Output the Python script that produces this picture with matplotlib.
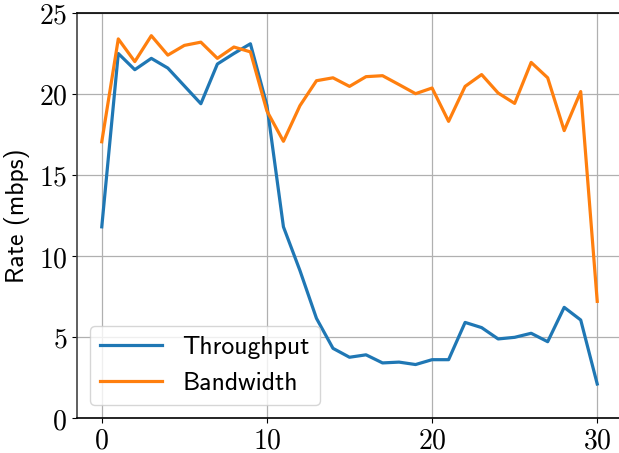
import matplotlib
matplotlib.use("Agg")
import matplotlib.pyplot as plt

plt.rcParams["mathtext.fontset"] = "cm"
plt.rcParams["axes.unicode_minus"] = False

steps = list(range(31))
throughput = [11.8, 22.5, 21.5, 22.2, 21.6, 20.5, 19.4, 21.85, 22.5, 23.1,
              19.3, 11.8, 9.1, 6.15, 4.3, 3.75, 3.9, 3.4, 3.45, 3.3,
              3.6, 3.6, 5.9, 5.58, 4.88, 4.98, 5.23, 4.71, 6.83, 6.05, 2.1]
bandwidth = [17.05, 23.4, 22.0, 23.6, 22.4, 23.0, 23.2, 22.2, 22.9, 22.6,
             18.95, 17.08, 19.28, 20.82, 21.0, 20.47, 21.07, 21.13, 20.58, 20.02,
             20.37, 18.31, 20.47, 21.2, 20.06, 19.42, 21.95, 21.0, 17.74, 20.15, 7.2]
xticks = [0, 10, 20, 30]
yticks = [0, 5, 10, 15, 20, 25]

fig = plt.figure(figsize=(6.19, 4.53), dpi=100)
ax = fig.add_axes([77 / 619, 35 / 453, 545 / 619, 405 / 453])

ax.plot(steps, throughput, color="#1f77b4", lw=2.3, label="Throughput")
ax.plot(steps, bandwidth, color="#ff7f0e", lw=2.3, label="Bandwidth")

ax.set_xlim(-1.5, 31.5)
ax.set_ylim(0, 25)
ax.set_xticks(xticks)
ax.set_yticks(yticks)
ax.set_xticklabels([f"${t}$" for t in xticks], fontsize=20)
ax.set_yticklabels([f"${t}$" for t in yticks], fontsize=20)
ax.tick_params(axis="x", pad=2.5)
ax.grid(True, color="#b0b0b0", lw=0.9)
ax.set_axisbelow(True)
ax.spines["right"].set_visible(False)
ax.spines["left"].set_color("#444444")
for s in ("top", "bottom", "left"):
    ax.spines[s].set_linewidth(1.2)

ax.set_ylabel("Rate (mbps)", family="cmss10", fontsize=18.5, labelpad=6)
ax.legend(loc="lower left", prop={"family": "cmss10", "size": 18.5},
          handlelength=2.4, borderaxespad=0.5, bbox_to_anchor=(0.0, 0.0))

fig.savefig("out.png", dpi=100)
